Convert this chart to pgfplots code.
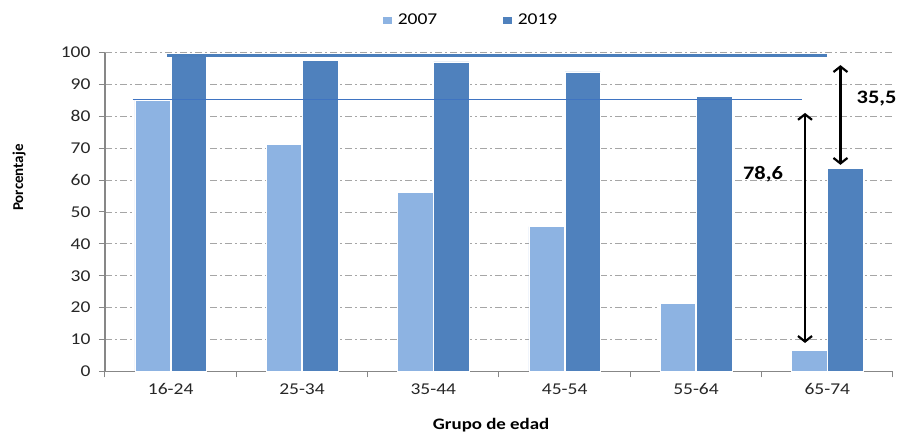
\documentclass[border=0pt]{standalone}
\usepackage{graphicx}
\usepackage{pgfplots}
\pgfplotsset{compat=1.18}
\usepackage{fontspec}
\setmainfont{Carlito}
\usetikzlibrary{arrows.meta}
\definecolor{c07}{HTML}{8DB3E2}
\definecolor{c19}{HTML}{4F81BD}
\definecolor{cline}{HTML}{4A7EBB}
\definecolor{cthin}{HTML}{3F74C2}
\definecolor{axgray}{HTML}{878787}
\definecolor{gridgray}{HTML}{A6A6A6}
\definecolor{tickc}{HTML}{262626}
\newcommand\hs[1]{\scalebox{1.18}[1]{#1}}
\begin{document}
\begin{tikzpicture}
\begin{axis}[
  at={(0,0)}, anchor=south west,
  scale only axis, width=788pt, height=318.6pt,
  xmin=-0.5, xmax=5.5, ymin=0, ymax=100,
  ybar, bar width=0.27,
  xtick={0,1,2,3,4,5},
  xticklabels={\hs{16-24},\hs{25-34},\hs{35-44},\hs{45-54},\hs{55-64},\hs{65-74}},
  major x tick style={draw=none},
  minor xtick={-0.5,0.5,1.5,2.5,3.5,4.5,5.5},
  minor x tick style={axgray, line width=1pt},
  ytick={0,10,20,30,40,50,60,70,80,90,100},
  yticklabel={\hs{\pgfmathprintnumber{\tick}}},
  /pgf/number format/assume math mode=true,
  tick align=outside,
  major tick length=6pt, minor tick length=6pt,
  axis x line*=bottom, axis y line*=left,
  axis line style={axgray, line width=1.5pt, -},
  y tick style={axgray, line width=1pt},
  ymajorgrids,
  grid style={gridgray, line width=0.8pt, dash pattern=on 7pt off 3pt on 2pt off 3pt},
  tick label style={font=\fontsize{16.5}{19}\selectfont, text=tickc},
  yticklabel style={xshift=-5pt},
  xticklabel style={yshift=-3pt},
  legend style={at={(0.353,1.1026)}, anchor=west, draw=none, fill=none,
    inner sep=0pt, legend columns=2,
    font=\fontsize{16.5}{19}\selectfont,
    /tikz/every odd column/.append style={column sep=4pt},
    /tikz/every even column/.append style={column sep=64pt}},
  legend image code/.code={\fill[#1,draw=none] (0pt,-3.5pt) rectangle (8.5pt,3.5pt);},
  clip=false,
]
\addplot[fill=c07, draw=white, line width=0.6pt, bar shift=-0.138]
  coordinates {(0,85.2) (1,71.3) (2,56.1) (3,45.4) (4,21.3) (5,6.6)};
\addlegendentry{\hs{2007}}
\addplot[fill=c19, draw=white, line width=0.6pt, bar shift=0.138]
  coordinates {(0,99.2) (1,97.6) (2,97.1) (3,94.0) (4,86.2) (5,63.7)};
\addlegendentry{\hs{2019}}
\addplot[sharp plot, no markers, cline, line width=3pt, forget plot]
  coordinates {(-0.03,99.2) (5.0,99.2)};
\addplot[sharp plot, no markers, cthin, line width=1.1pt, forget plot]
  coordinates {(-0.29,85.2) (4.81,85.2)};
\addplot[sharp plot, no markers, black, line width=2.2pt, forget plot,
  {Straight Barb[length=5.5pt,width=14pt]}-{Straight Barb[length=5.5pt,width=14pt]}]
  coordinates {(4.83,8.9) (4.83,81.1)};
\addplot[sharp plot, no markers, black, line width=2.2pt, forget plot,
  {Straight Barb[length=5.5pt,width=14pt]}-{Straight Barb[length=5.5pt,width=14pt]}]
  coordinates {(5.10,64.8) (5.10,96.1)};
\node[font=\bfseries\fontsize{19}{22}\selectfont] at (axis cs:4.51,61.9) {\hs{78,6}};
\node[font=\bfseries\fontsize{19}{22}\selectfont] at (axis cs:5.375,85.6) {\hs{35,5}};
\node[rotate=90, font=\bfseries\fontsize{15}{18}\selectfont] at (rel axis cs:-0.109,0.608) {Porcentaje};
\node[anchor=base, font=\bfseries\fontsize{16}{19}\selectfont] at (rel axis cs:0.490,-0.182) {\hs{Grupo de edad}};
\end{axis}
\pgfresetboundingbox
\path[use as bounding box] (-105pt,-62.7pt) rectangle (793pt,371.3pt);
\end{tikzpicture}
\end{document}
